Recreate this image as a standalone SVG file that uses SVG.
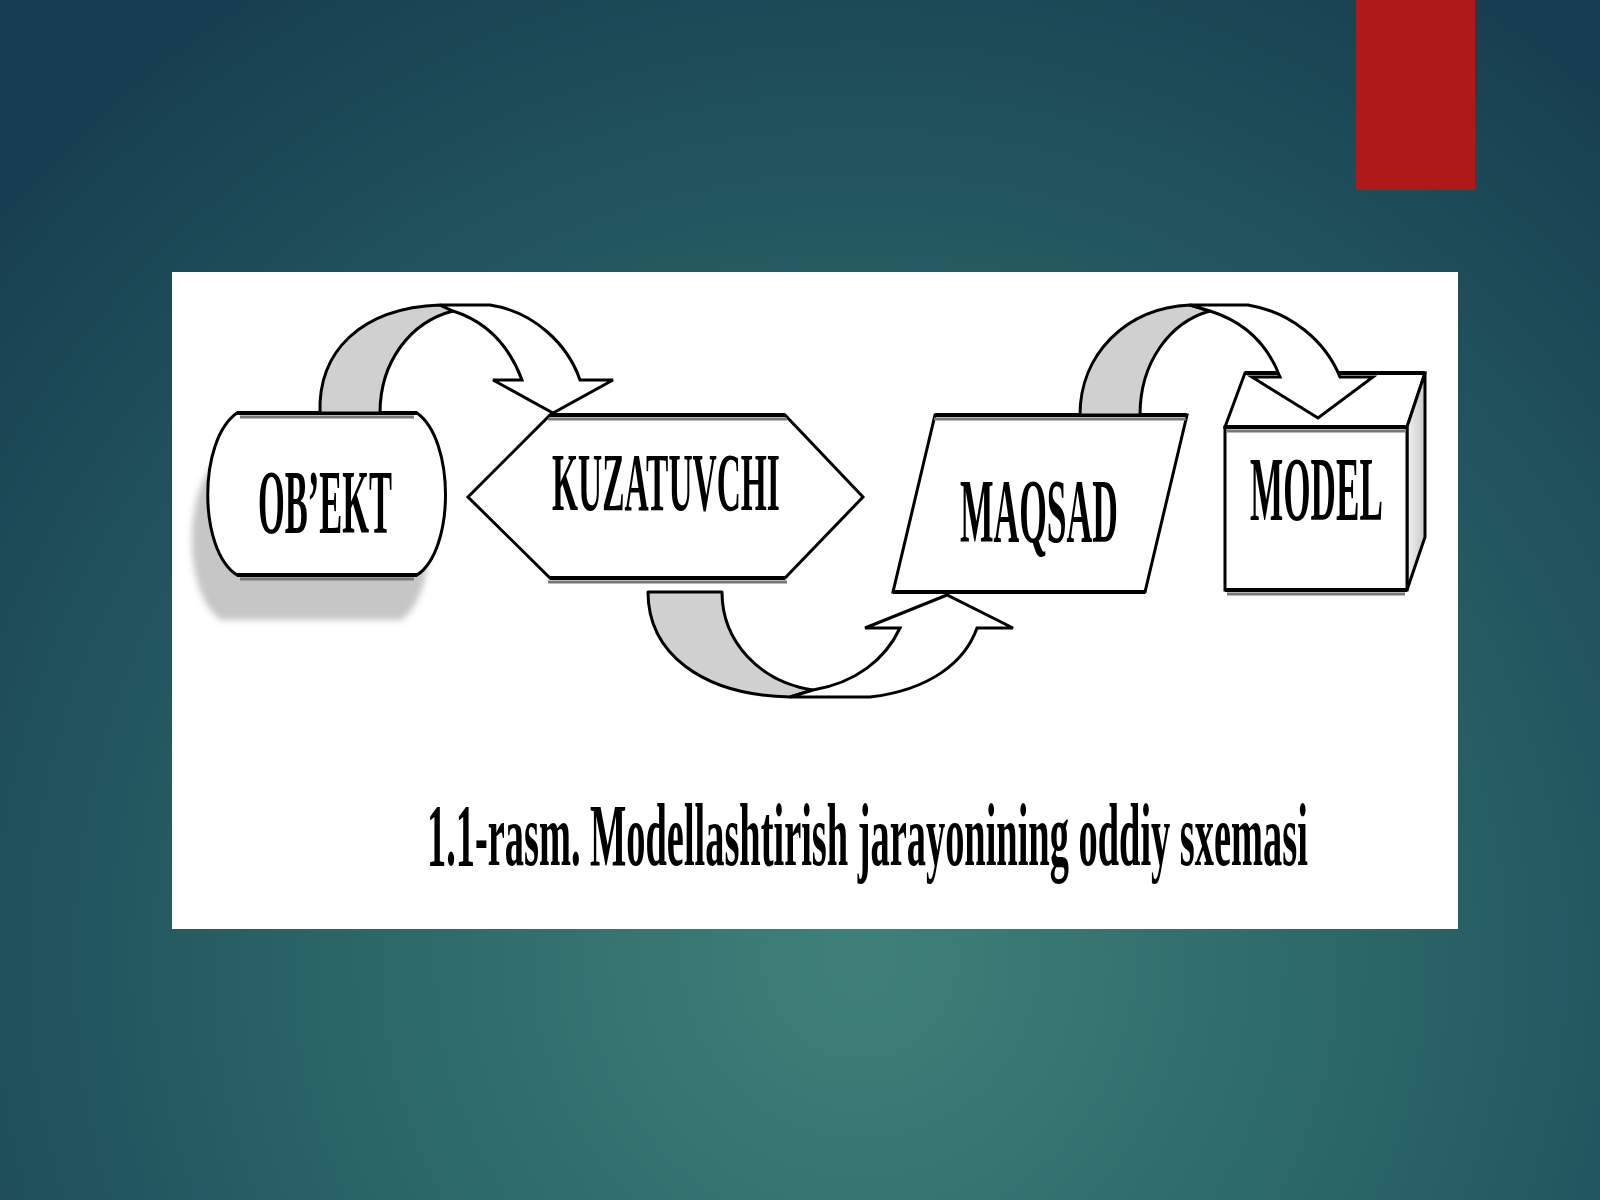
<svg xmlns="http://www.w3.org/2000/svg" width="1600" height="1200" viewBox="0 0 1600 1200">
<defs>
<radialGradient id="bg" cx="860" cy="960" r="1150" gradientUnits="userSpaceOnUse">
<stop offset="0" stop-color="#3f817a"/>
<stop offset="0.45" stop-color="#2a6668"/>
<stop offset="1" stop-color="#173e50"/>
</radialGradient>
<linearGradient id="side" x1="0" y1="0" x2="1" y2="0">
<stop offset="0" stop-color="#f2f2f2"/>
<stop offset="1" stop-color="#c8c8c8"/>
</linearGradient>
<filter id="blur" x="-10%" y="-10%" width="120%" height="120%"><feGaussianBlur stdDeviation="3"/></filter>
</defs>
<style>
.shape{fill:#ffffff;stroke:#000;stroke-width:3;stroke-linejoin:miter}
.edge{fill:none;stroke:#000;stroke-width:4}
.edgeg{fill:none;stroke:#777;stroke-width:3}
.lbl{font-family:"Liberation Serif","Times New Roman",serif;font-weight:bold;fill:#000}
.band{fill:#d0d0d0;stroke:#000;stroke-width:3;stroke-linejoin:round}
.bandw{fill:#ffffff;stroke:#000;stroke-width:3;stroke-linejoin:miter}
</style>
<rect x="0" y="0" width="1600" height="1200" fill="url(#bg)"/>
<rect x="1356" y="0" width="119" height="190" fill="#b0191a"/>
<rect x="172" y="272" width="1286" height="657" fill="#ffffff"/>

<g id="obekt">
<path d="M237,413 L417,413 C455,440 455,550 417,575 L237,575 C198,550 198,440 237,413 Z" transform="translate(-16,45)" fill="#c6c6c6" filter="url(#blur)"/>
<path class="shape" d="M237,413 L417,413 C455,440 455,550 417,575 L237,575 C198,550 198,440 237,413 Z"/>
<line class="edge" x1="237" y1="413" x2="417" y2="413"/>
<line class="edgeg" x1="240" y1="417" x2="414" y2="417"/>
<line class="edge" x1="237" y1="575" x2="417" y2="575"/>
<line class="edgeg" x1="240" y1="579" x2="414" y2="579"/>
<text class="lbl" transform="translate(258,533) scale(0.383,1)" x="0" y="0" font-size="90" textLength="350" lengthAdjust="spacingAndGlyphs">OB’EKT</text>
</g>

<g id="kuzatuvchi">
<polygon class="shape" points="468,497 550,415 785,415 863,497 785,578 550,578"/>
<line class="edge" x1="550" y1="415" x2="785" y2="415"/>
<line class="edgeg" x1="548" y1="419" x2="787" y2="419"/>
<line class="edge" x1="550" y1="578" x2="785" y2="578"/>
<line class="edgeg" x1="548" y1="582" x2="787" y2="582"/>
<text class="lbl" transform="translate(552,510) scale(0.404,1)" x="0" y="0" font-size="82" textLength="564" lengthAdjust="spacingAndGlyphs">KUZATUVCHI</text>
</g>

<g id="maqsad">
<polygon class="shape" points="935,415 1187,415 1145,592 893,592"/>
<line class="edge" x1="935" y1="415" x2="1187" y2="415"/>
<line class="edgeg" x1="934" y1="419" x2="1186" y2="419"/>
<line class="edge" x1="893" y1="592" x2="1145" y2="592"/>
<text class="lbl" transform="translate(960,542) scale(0.386,1)" x="0" y="0" font-size="92" textLength="409" lengthAdjust="spacingAndGlyphs">MAQSAD</text>
</g>

<g id="model">
<polygon class="shape" points="1225,427 1245,373 1425,373 1407,427"/>
<polygon points="1407,427 1425,373 1425,537 1407,590" fill="url(#side)" stroke="#000" stroke-width="3"/>
<rect class="shape" x="1225" y="427" width="182" height="163"/>
<line class="edge" x1="1245" y1="373" x2="1425" y2="373"/>
<line class="edge" x1="1225" y1="427" x2="1407" y2="427"/>
<line class="edgeg" x1="1227" y1="431" x2="1405" y2="431"/>
<line class="edge" x1="1225" y1="590" x2="1407" y2="590"/>
<line class="edgeg" x1="1227" y1="594" x2="1405" y2="594"/>
<text class="lbl" transform="translate(1250,520) scale(0.382,1)" x="0" y="0" font-size="92" textLength="348" lengthAdjust="spacingAndGlyphs">MODEL</text>
</g>

<g id="connectors">
<g id="a1">
<path class="band" d="M320,413 C318,352 360,308 440,305 L453,311 C410,322 380,362 380,413 Z"/>
<path class="bandw" d="M440,305 L490,305 C535,312 568,345 580,380 L613,380 L553,413 L493,380 L522,380 C510,348 488,322 453,311 Z"/>
</g>
<g id="a2">
<path class="band" d="M648,592 L722,592 C722,642 760,682 813,690 L790,697 C700,695 648,652 648,592 Z"/>
<path class="bandw" d="M790,697 L870,697 C930,690 965,662 977,628 L1013,628 L947,595 L865,628 L900,628 C885,660 855,683 813,690 Z"/>
</g>
<g id="a3">
<path class="band" d="M1080,415 C1080,355 1125,308 1190,305 L1210,311 C1170,322 1140,362 1140,415 Z"/>
<path class="bandw" d="M1190,305 L1248,305 C1290,312 1325,340 1340,377 L1373,377 L1318,418 L1252,377 L1280,377 C1268,345 1245,322 1210,311 Z"/>
</g>
</g>

<text class="lbl" transform="translate(427,865) scale(0.4,1)" x="0" y="0" font-size="88" textLength="2202" lengthAdjust="spacingAndGlyphs">1.1-rasm. Modellashtirish jarayonining oddiy sxemasi</text>
</svg>
